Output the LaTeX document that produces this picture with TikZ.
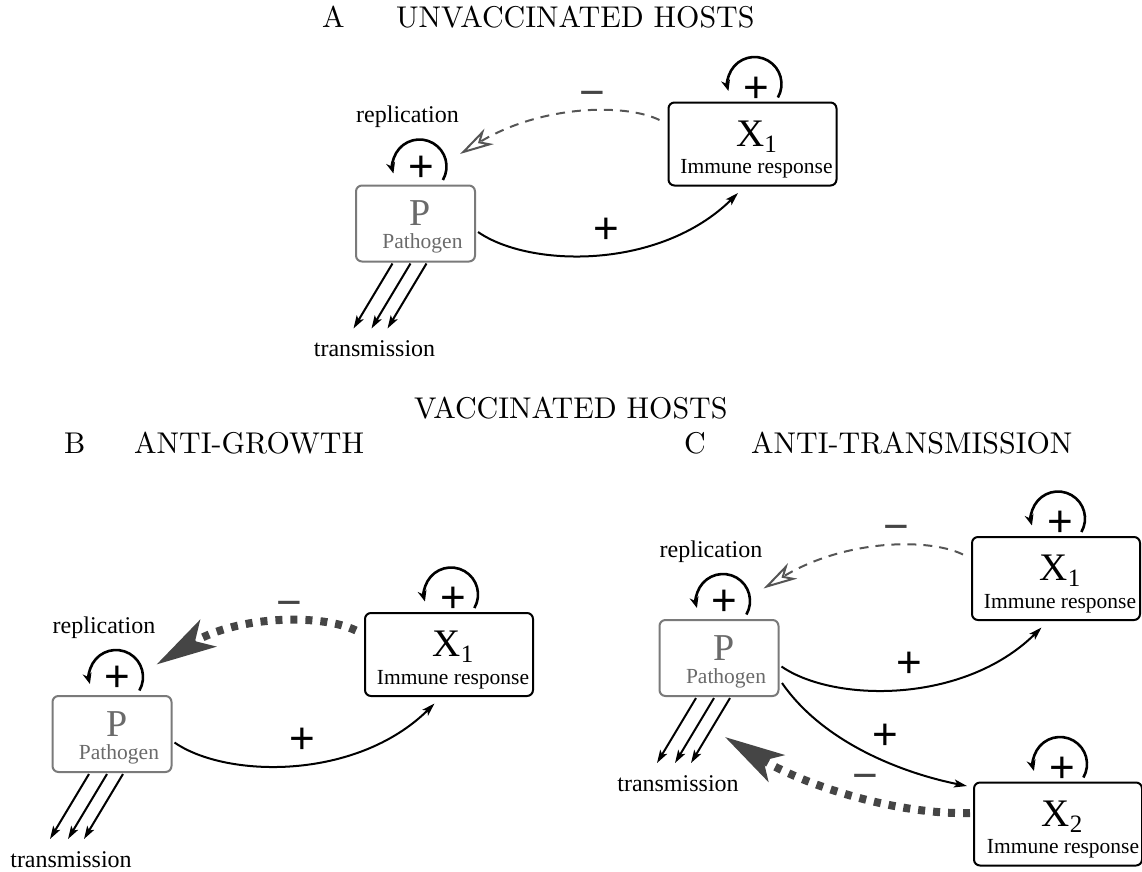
\documentclass[tikz,border=0pt]{standalone}
\usepackage{fontspec}
\newfontfamily\tms{Liberation Serif}
\newfontfamily\hlv{Liberation Sans}
\newfontfamily\lmten{lmroman10-regular.otf}
\usetikzlibrary{arrows.meta,calc}
\definecolor{pgray}{HTML}{6A6A6A}
\definecolor{pborder}{HTML}{7A7A7A}
\definecolor{dgray}{HTML}{555555}
\definecolor{tgray}{HTML}{454545}
\tikzset{
 pbox/.style={draw=pborder, line width=2pt, rounded corners=6pt, minimum width=119pt, minimum height=76pt, inner sep=0pt},
 xbox/.style={draw=black, line width=2pt, rounded corners=6pt, minimum width=168pt, minimum height=83pt, inner sep=0pt},
 bigP/.style={anchor=base, inner sep=0pt, text=pgray, font=\tms\fontsize{38}{40}\selectfont},
 bigX/.style={anchor=base, inner sep=0pt, font=\tms\fontsize{39}{40}\selectfont},
 smalltxt/.style={anchor=base, inner sep=0pt, font=\tms\fontsize{21.5}{24}\selectfont},
 lbl/.style={anchor=base, inner sep=0pt, font=\tms\fontsize{24}{26}\selectfont},
 sign/.style={anchor=base, inner sep=0pt, font=\hlv\fontsize{44}{46}\selectfont},
 ttl/.style={anchor=base west, inner sep=0pt, font=\lmten\fontsize{30}{33}\selectfont},
 selfloop/.style={line width=2.6pt, -{Stealth[length=11pt,width=9pt]}},
 posedge/.style={line width=2pt, -{Stealth[length=13pt,width=8pt,inset=3pt]}},
 trans/.style={line width=2pt, -{Stealth[length=13pt,width=8pt,inset=3pt]}},
 thinneg/.style={dgray, line width=2pt, dash pattern=on 9pt off 7pt, -{Stealth[open,length=34pt,width=18pt,inset=10pt]}},
 thickneg/.style={tgray, line width=8pt, dash pattern=on 7pt off 8pt, -{Stealth[length=60pt,width=31pt,inset=15pt]}},
}
\newcommand\panel[3]{%
 \node[pbox] (P#1) at (#2) {};
 \node[xbox] (X#1) at ($(P#1.center)+(337,-79.5)$) {};
 \node[bigP] (PL#1) at ($(P#1.center)+(5,2)$) {P};
 \node[smalltxt,text=pgray] (PN#1) at ($(P#1.center)+(7,25)$) {Pathogen};
 \node[bigX] (XL#1) at ($(X#1.center)+(4,2)$) {X\raisebox{-6pt}{\fontsize{25}{26}\selectfont 1}};
 \node[smalltxt] (XN#1) at ($(X#1.center)+(4,29.5)$) {Immune response};
 \node[lbl] (rep#1) at ($(P#1.center)+(-8,-101)$) {replication};
 \node[lbl] (tr#1) at ($(P#1.center)+(-41,133)$) {transmission};
 \draw[selfloop] ($(P#1.center)+(4,-57)+(30:27)$) arc[start angle=30,end angle=-195,radius=27];
 \node[sign] (lpP#1) at ($(P#1.center)+(5.5,-42.5)$) {+};
 \draw[selfloop] ($(X#1.center)+(2,-60)+(30:27)$) arc[start angle=30,end angle=-195,radius=27];
 \node[sign] (lpX#1) at ($(X#1.center)+(4,-42)$) {+};
 \coordinate (Ta#1) at ($(P#1.center)+(-62,105)$);
 \coordinate (Tb#1) at ($(P#1.center)+(-44,105)$);
 \coordinate (Tc#1) at ($(P#1.center)+(-28,105)$);
 \draw[trans] ($(P#1.center)+(-23,40)$) -- (Ta#1);
 \draw[trans] ($(P#1.center)+(-5,40)$) -- (Tb#1);
 \draw[trans] ($(P#1.center)+(11,40)$) -- (Tc#1);
 \draw[posedge] ($(P#1.center)+(62.5,8.5)$) .. controls +(52,36) and +(-78,77) .. ($(X#1.center)+(-14.5,49)$);
 \node[sign] (pl#1) at ($(P#1.center)+(190.5,19.5)$) {+};
 \draw[#3] ($(X#1.center)+(-93,-24)$) .. controls +(-35,-17) and +(81,-49) .. ($(P#1.center)+(44.5,-69.5)$);
 \node[sign,text=tgray] (mi#1) at ($(P#1.center)+(177,-116.5)$) {−};
}
\begin{document}
\begin{tikzpicture}[x=1pt,y=-1pt]
\useasboundingbox (0,0) rectangle (1142,871);
% titles
\node[ttl] (tA) at (322,27) {A};
\node[ttl] (tAt) at (396,27) {UNVACCINATED HOSTS};
\node[ttl] (tV) at (414,418) {VACCINATED HOSTS};
\node[ttl] (tB) at (64,453) {B};
\node[ttl] (tBt) at (134,453) {ANTI-GROWTH};
\node[ttl] (tC) at (684,453) {C};
\node[ttl] (tCt) at (751,453) {ANTI-TRANSMISSION};
% panels
\panel{A}{415.5,223.5}{thinneg}
\panel{B}{112,734}{thickneg}
\panel{C}{719,658}{thinneg}
% second immune response in C
\node[xbox] (X2) at ($(PC.center)+(339,166)$) {};
\node[bigX] (XL2) at ($(X2.center)+(4,2)$) {X\raisebox{-6pt}{\fontsize{25}{26}\selectfont 2}};
\node[smalltxt] (XN2) at ($(X2.center)+(5,29.5)$) {Immune response};
\draw[selfloop] ($(X2.center)+(2,-60)+(30:27)$) arc[start angle=30,end angle=-195,radius=27];
\node[sign] (lpX2) at ($(X2.center)+(4,-42)$) {+};
\draw[posedge] ($(PC.center)+(63,25)$) .. controls +(43,62) and +(-60,-12) .. ($(X2.center)+(-91,-38)$);
\node[sign] (pl2) at ($(PC.center)+(166,91)$) {+};
\coordinate (trtip) at ($(PC.center)+(6,79)$);
\draw[thickneg] ($(X2.center)+(-88,-11)$) .. controls +(-70,2) and +(82,50) .. (trtip);
\node[sign,text=tgray] (mi2) at ($(PC.center)+(146,132)$) {−};
\end{tikzpicture}
\end{document}
